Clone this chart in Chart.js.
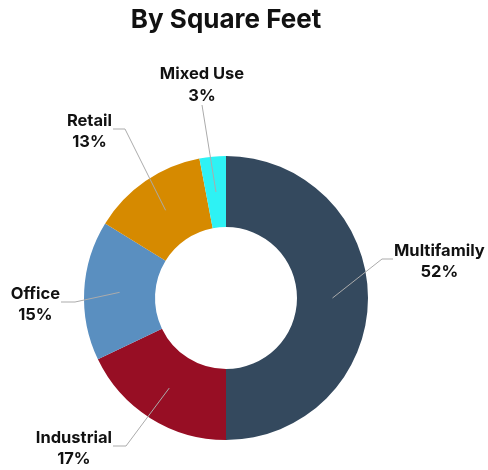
<!DOCTYPE html>
<html>
<head>
<meta charset="utf-8">
<script src="https://cdn.jsdelivr.net/npm/chart.js@4/dist/chart.umd.min.js"></script>
<style>
  html, body { margin: 0; padding: 0; background: #ffffff; }
  canvas { display: block; }
</style>
</head>
<body>
<canvas id="c" width="488" height="470"></canvas>
<script>
// ---- data ----
const categories = ["Multifamily", "Industrial", "Office", "Retail", "Mixed Use"];
const sliceValues = [50, 17.9, 15.9, 13.2, 3];          // slice sizes as drawn
const percentLabels = ["52%", "17%", "15%", "13%", "3%"]; // label texts as printed
const titleText = "By Square Feet";

// ---- styling ----
const sliceColors = ["#34495e", "#970e24", "#5a8fc0", "#d68a00", "#2ef2f4"];
// label elbow positions relative to doughnut centre (px), side of label, horizontal segment
const labelLayout = [
  { dx: 156, dy: -39, side: "right", seg: 11 },
  { dx: -100, dy: 148, side: "left", seg: 13 },
  { dx: -151, dy: 4, side: "left", seg: 14 },
  { dx: -101, dy: -169, side: "left", seg: 12 },
  { dx: -24, dy: -193, side: "top", seg: 0 }
];
const labelFont = "bold 16.5px Inter";
const lineGap = 21.5;

const leaderPlugin = {
  id: "leaders",
  afterDatasetsDraw(chart) {
    const ctx = chart.ctx;
    const meta = chart.getDatasetMeta(0);
    ctx.save();
    meta.data.forEach((arc, i) => {
      const p = arc.getProps(["x", "y", "startAngle", "endAngle", "innerRadius", "outerRadius"], true);
      const mid = (p.startAngle + p.endAngle) / 2;
      const r = (p.innerRadius + p.outerRadius) / 2;
      const sx = p.x + Math.cos(mid) * r;
      const sy = p.y + Math.sin(mid) * r;
      const L = labelLayout[i];
      const ex = p.x + L.dx, ey = p.y + L.dy;
      let fx = ex, fy = ey;
      if (L.side === "right") fx = ex + L.seg;
      if (L.side === "left") fx = ex - L.seg;
      ctx.strokeStyle = "#ababab";
      ctx.lineWidth = 1;
      ctx.beginPath();
      ctx.moveTo(sx, sy);
      ctx.lineTo(ex, ey);
      if (L.seg) ctx.lineTo(fx, fy);
      ctx.stroke();

      ctx.font = labelFont;
      ctx.fillStyle = "#111111";
      ctx.textAlign = "center";
      ctx.textBaseline = "alphabetic";
      const l1 = categories[i], l2 = percentLabels[i];
      const w = Math.max(ctx.measureText(l1).width, ctx.measureText(l2).width);
      let cx, b1;
      if (L.side === "right") { cx = fx + 1 + w / 2; b1 = fy - 3.3; }
      else if (L.side === "left") { cx = fx - 1 - w / 2; b1 = fy - 3.3; }
      else { cx = fx; b1 = fy - 4.3 - lineGap; }
      ctx.fillText(l1, cx, b1);
      ctx.fillText(l2, cx, b1 + lineGap);
    });
    ctx.restore();
  }
};

new Chart(document.getElementById("c"), {
  type: "doughnut",
  data: {
    labels: categories,
    datasets: [{
      data: sliceValues,
      backgroundColor: sliceColors,
      borderWidth: 0
    }]
  },
  options: {
    responsive: false,
    animation: false,
    cutout: "50%",
    layout: { padding: { top: 0, right: 36, bottom: 30, left: 0 } },
    plugins: {
      legend: { display: false },
      tooltip: { enabled: false },
      title: {
        display: true,
        text: titleText,
        color: "#111111",
        font: { family: "Inter", size: 26, weight: "bold" },
        padding: { top: 5, bottom: 119.8 }
      }
    }
  },
  plugins: [leaderPlugin]
});
</script>
</body>
</html>
